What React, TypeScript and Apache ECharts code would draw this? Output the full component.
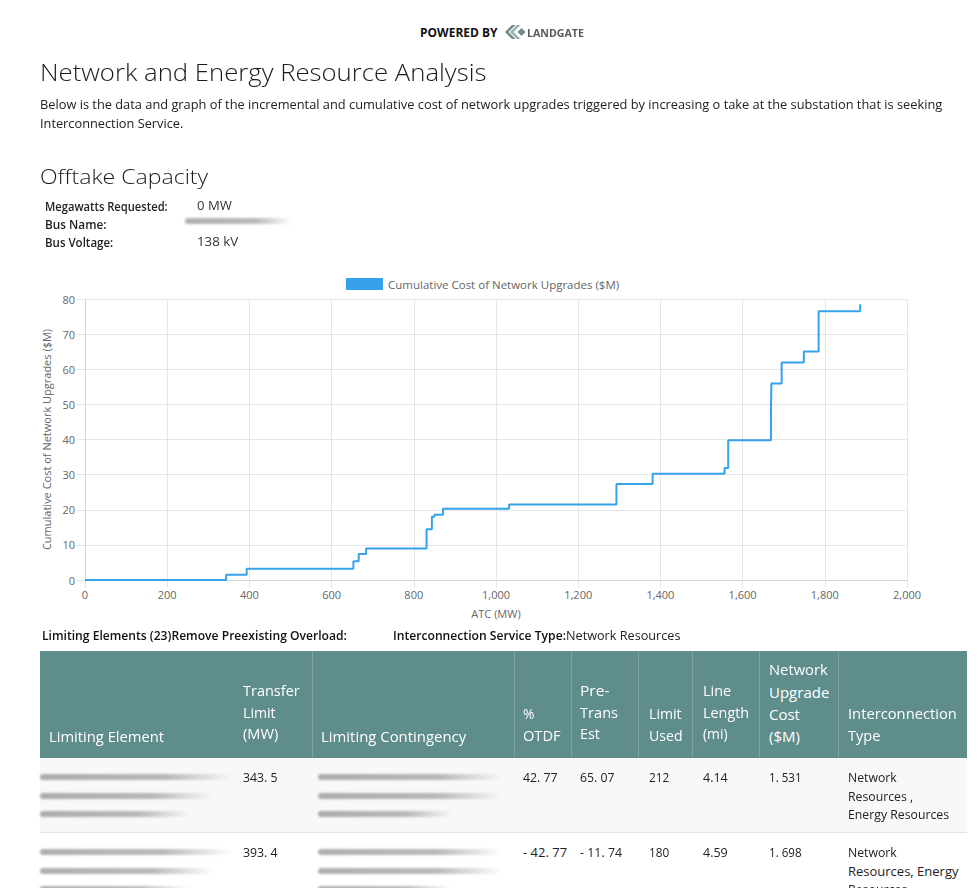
import React, { useEffect, useLayoutEffect, useRef } from "react";
import * as echarts from "echarts";

const FONT = '"Open Sans", "Noto Sans", sans-serif';

// ---------------- chart data ----------------
const SERIES_NAME = "Cumulative Cost of Network Upgrades ($M)";
const X_AXIS_NAME = "ATC (MW)";
const Y_AXIS_NAME = "Cumulative Cost of Network Upgrades ($M)";
const atcMW = [0, 343.5, 393.4, 653, 666, 684, 831, 844, 850, 871, 1032, 1293, 1381, 1556, 1565, 1669, 1670, 1695, 1749, 1785, 1886];
const cumulativeCostM = [0, 1.53, 3.23, 5.33, 7.42, 8.94, 14.46, 17.98, 18.55, 20.27, 21.5, 27.3, 30.26, 31.87, 39.77, 47.95, 55.95, 61.94, 65.08, 76.5, 78.5];
const X_MIN = 0, X_MAX = 2000, X_STEP = 200;
const Y_MIN = 0, Y_MAX = 80, Y_STEP = 10;

// ---------------- report text ----------------
const TITLE = "Network and Energy Resource Analysis";
const INTRO_LINES = [
  "Below is the data and graph of the incremental and cumulative cost of network upgrades triggered by increasing o take at the substation that is seeking",
  "Interconnection Service.",
];
const SUBTITLE = "Offtake Capacity";
const INFO_LABELS = ["Megawatts Requested:", "Bus Name:", "Bus Voltage:"];
const INFO_VALUES = ["0 MW", "", "138 kV"];
const LIMITING_LABEL = "Limiting Elements (23)Remove Preexisting Overload:";
const SERVICE_LABEL = "Interconnection Service Type:";
const SERVICE_VALUE = "Network Resources";

// ---------------- table data ----------------
const HEADERS: string[][] = [
  ["Limiting Element"],
  ["Transfer", "Limit", "(MW)"],
  ["Limiting Contingency"],
  ["%", "OTDF"],
  ["Pre-", "Trans", "Est"],
  ["Limit", "Used"],
  ["Line", "Length", "(mi)"],
  ["Network", "Upgrade", "Cost", "($M)"],
  ["Interconnection", "Type"],
];
const transferLimitMW = ["343. 5", "393. 4"];
const otdfPct = ["42. 77", "- 42. 77"];
const preTransEst = ["65. 07", "- 11. 74"];
const limitUsed = ["212", "180"];
const lineLengthMi = ["4.14", "4.59"];
const upgradeCostM = ["1. 531", "1. 698"];
const interconnectionType = [
  ["Network", "Resources ,", "Energy Resources"],
  ["Network", "Resources, Energy", "Resources"],
];

// ---------------- layout (page pixels) ----------------
const HEADER_X = [49, 243, 321, 523, 580, 649, 703, 769, 848];
const HEADER_W: number[][] = [
  [115], [57, 33, 35], [145], [11, 38], [29, 38, 20], [33, 34], [28, 46, 25], [59, 60, 31, 31], [109, 32],
];
const HEADER_LINE_Y: number[][] = [
  [736], [690, 712, 733], [736], [713, 735], [690, 712, 733], [713, 735], [690, 712, 733], [669, 692, 714, 736], [713, 735],
];
const COL_SEPARATORS = [312, 514, 571, 638, 692, 759, 838];
const ROW_Y = [777, 852];
const ROW_LINE_H = 18.5;
const VAL_W = {
  transfer: [35, 35],
  otdf: [35, 44],
  pre: [35, 42],
  used: [20, 20],
  len: [25, 25],
  cost: [33, 33],
  type: [[49, 65, 101], [49, 110, 59]],
};

// chart box on the page
const CHART_LEFT = 20, CHART_TOP = 262, CHART_W = 940, CHART_H = 365;

type FitProps = {
  x: number; cy: number; w?: number; size: number; weight?: number; color?: string; children: React.ReactNode;
};
function Fit({ x, cy, w, size, weight = 400, color = "#222", children }: FitProps) {
  const ref = useRef<HTMLSpanElement>(null);
  useLayoutEffect(() => {
    const el = ref.current;
    if (!el || !w) return;
    const apply = () => {
      const nat = el.offsetWidth;
      if (nat > 0) el.style.transform = `scaleX(${w / nat})`;
    };
    apply();
    const f = (document as any).fonts;
    if (f && f.ready) f.ready.then(apply);
  }, [w]);
  const h = Math.round(size * 1.4);
  return (
    <span
      ref={ref}
      style={{
        position: "absolute", left: x, top: cy - h / 2, height: h, lineHeight: `${h}px`,
        fontSize: size, fontWeight: weight, color, fontFamily: FONT, whiteSpace: "nowrap",
        transformOrigin: "0 50%", display: "block",
      }}
    >
      {children}
    </span>
  );
}

function Blur({ x1, x2, cy }: { x1: number; x2: number; cy: number }) {
  return (
    <div
      style={{
        position: "absolute", left: x1, top: cy - 3, width: x2 - x1, height: 6,
        background: "linear-gradient(to right, rgba(110,110,110,0.55), rgba(140,140,140,0.6) 65%, rgba(190,190,190,0))",
        filter: "blur(1.3px)", borderRadius: 3,
      }}
    />
  );
}

function Chart() {
  const ref = useRef<HTMLDivElement>(null);
  useEffect(() => {
    const chart = echarts.init(ref.current!, undefined, { renderer: "svg" });
    const grey = "#666";
    const gridColor = "#e6e6e6";
    const plotLeft = 85, plotRight = 907, plotTop = 299, plotBottom = 580;
    chart.setOption({
      animation: false,
      textStyle: { fontFamily: FONT },
      legend: {
        top: 278 - CHART_TOP, left: 346 - CHART_LEFT, padding: 0, icon: "rect", itemWidth: 37, itemHeight: 12, itemGap: 10,
        textStyle: { fontSize: 11.5, color: grey, fontFamily: FONT },
        data: [{ name: SERIES_NAME, itemStyle: { color: "#36a2eb", borderColor: "#36a2eb" } }],
      },
      grid: {
        left: plotLeft - CHART_LEFT,
        right: CHART_LEFT + CHART_W - plotRight,
        top: plotTop - CHART_TOP,
        bottom: CHART_TOP + CHART_H - plotBottom,
        containLabel: false,
        outerBoundsMode: "none",
      },
      xAxis: {
        type: "value", min: X_MIN, max: X_MAX, interval: X_STEP,
        name: X_AXIS_NAME, nameLocation: "middle", nameGap: 28,
        nameTextStyle: { fontSize: 11, color: grey, fontFamily: FONT },
        axisLine: { show: true, lineStyle: { color: "#d6d6d6", width: 1 } },
        axisTick: { show: true, length: 8, lineStyle: { color: gridColor } },
        axisLabel: {
          color: grey, fontSize: 11, margin: 9, fontFamily: FONT,
          formatter: (v: number) => v.toLocaleString("en-US"),
        },
        splitLine: { show: true, lineStyle: { color: gridColor, width: 1 } },
      },
      yAxis: {
        type: "value", min: Y_MIN, max: Y_MAX, interval: Y_STEP,
        name: Y_AXIS_NAME, nameLocation: "middle", nameGap: 32,
        nameTextStyle: { fontSize: 11, color: grey, fontFamily: FONT },
        axisLine: { show: true, lineStyle: { color: "#d6d6d6", width: 1 } },
        axisTick: { show: true, length: 8, lineStyle: { color: gridColor } },
        axisLabel: { color: grey, fontSize: 11, margin: 10, fontFamily: FONT },
        splitLine: { show: true, lineStyle: { color: gridColor, width: 1 } },
      },
      series: [
        {
          type: "line", name: SERIES_NAME, step: "end", showSymbol: false, symbol: "none",
          data: atcMW.map((x, i) => [x, cumulativeCostM[i]]),
          lineStyle: { width: 2, color: "#36a2eb" },
          itemStyle: { color: "#36a2eb" },
        },
      ],
    });
    return () => chart.dispose();
  }, []);
  return <div ref={ref} style={{ position: "absolute", left: CHART_LEFT, top: CHART_TOP, width: CHART_W, height: CHART_H }} />;
}

function Logo() {
  return (
    <svg style={{ position: "absolute", left: 505, top: 25 }} width={22} height={14} viewBox="0 0 22 14">
      <polygon points="7,0 10.5,0 3.5,7 10.5,14 7,14 0,7" fill="#6f8a88" />
      <polygon points="12,0 15.5,0 8.5,7 15.5,14 12,14 5,7" fill="#9bb0ae" />
      <polygon points="16.5,3 20.5,7 16.5,11 12.5,7" fill="#6f8a88" />
    </svg>
  );
}

export default function App() {
  const rows = [0, 1];
  return (
    <div style={{ position: "absolute", left: 0, top: 0, width: 980, height: 888, overflow: "hidden", background: "#fff", fontFamily: FONT }}>
      <Fit x={420} cy={32} w={78} size={12} weight={700} color="#111">POWERED BY</Fit>
      <Logo />
      <Fit x={527} cy={32} w={57} size={11} weight={700} color="#5a5a5a">LANDGATE</Fit>

      <Fit x={40} cy={72} w={446} size={23} weight={300} color="#1b1b1b">{TITLE}</Fit>
      {INTRO_LINES.map((t, i) => (
        <Fit key={i} x={40} cy={105 + i * 19} w={i === 0 ? 902 : 143} size={12.5} color="#222">{t}</Fit>
      ))}
      <Fit x={40} cy={176} w={168} size={21} weight={300} color="#1b1b1b">{SUBTITLE}</Fit>

      {INFO_LABELS.map((t, i) => (
        <Fit key={"l" + i} x={45} cy={206 + i * 18} w={[123, 62, 68][i]} size={12} weight={600} color="#222">{t}</Fit>
      ))}
      {INFO_VALUES.map((t, i) =>
        t ? (
          <Fit key={"v" + i} x={197} cy={205 + i * 18} w={[35, 0, 41][i]} size={12} color="#333">{t}</Fit>
        ) : (
          <Blur key={"v" + i} x1={185} x2={293} cy={221} />
        )
      )}

      <Chart />

      <Fit x={42} cy={635} w={305} size={12} weight={600} color="#111">{LIMITING_LABEL}</Fit>
      <Fit x={393} cy={635} w={173} size={12} weight={600} color="#111">{SERVICE_LABEL}</Fit>
      <Fit x={566} cy={635} w={114} size={12} color="#222">{SERVICE_VALUE}</Fit>

      {/* table header */}
      <div style={{ position: "absolute", left: 40, top: 651, width: 927, height: 107, background: "#5e8d8c" }} />
      {COL_SEPARATORS.map((x, i) => (
        <div key={"s" + i} style={{ position: "absolute", left: x, top: 651, width: 1, height: 107, background: "rgba(255,255,255,0.18)" }} />
      ))}
      {HEADERS.map((lines, c) =>
        lines.map((t, j) => (
          <Fit key={`h${c}-${j}`} x={HEADER_X[c]} cy={HEADER_LINE_Y[c][j]} w={HEADER_W[c][j]} size={15} color="#fff">{t}</Fit>
        ))
      )}

      {/* table body */}
      <div style={{ position: "absolute", left: 40, top: 758, width: 927, height: 74, background: "#f7f8f8" }} />
      <div style={{ position: "absolute", left: 40, top: 832, width: 927, height: 1, background: "#e2e4e4" }} />
      {rows.map((r) => {
        const cy = ROW_Y[r];
        return (
          <React.Fragment key={"r" + r}>
            <Blur x1={40} x2={232} cy={cy} />
            <Blur x1={40} x2={213} cy={cy + ROW_LINE_H} />
            <Blur x1={40} x2={190} cy={cy + 2 * ROW_LINE_H} />
            <Blur x1={318} x2={502} cy={cy} />
            <Blur x1={318} x2={502} cy={cy + ROW_LINE_H} />
            <Blur x1={318} x2={452} cy={cy + 2 * ROW_LINE_H} />
            <Fit x={243} cy={cy} w={VAL_W.transfer[r]} size={13}>{transferLimitMW[r]}</Fit>
            <Fit x={523} cy={cy} w={VAL_W.otdf[r]} size={13}>{otdfPct[r]}</Fit>
            <Fit x={580} cy={cy} w={VAL_W.pre[r]} size={13}>{preTransEst[r]}</Fit>
            <Fit x={649} cy={cy} w={VAL_W.used[r]} size={13}>{limitUsed[r]}</Fit>
            <Fit x={703} cy={cy} w={VAL_W.len[r]} size={13}>{lineLengthMi[r]}</Fit>
            <Fit x={769} cy={cy} w={VAL_W.cost[r]} size={13}>{upgradeCostM[r]}</Fit>
            {interconnectionType[r].map((t, j) => (
              <Fit key={"t" + j} x={848} cy={cy + j * ROW_LINE_H} w={VAL_W.type[r][j]} size={13}>{t}</Fit>
            ))}
          </React.Fragment>
        );
      })}
    </div>
  );
}
